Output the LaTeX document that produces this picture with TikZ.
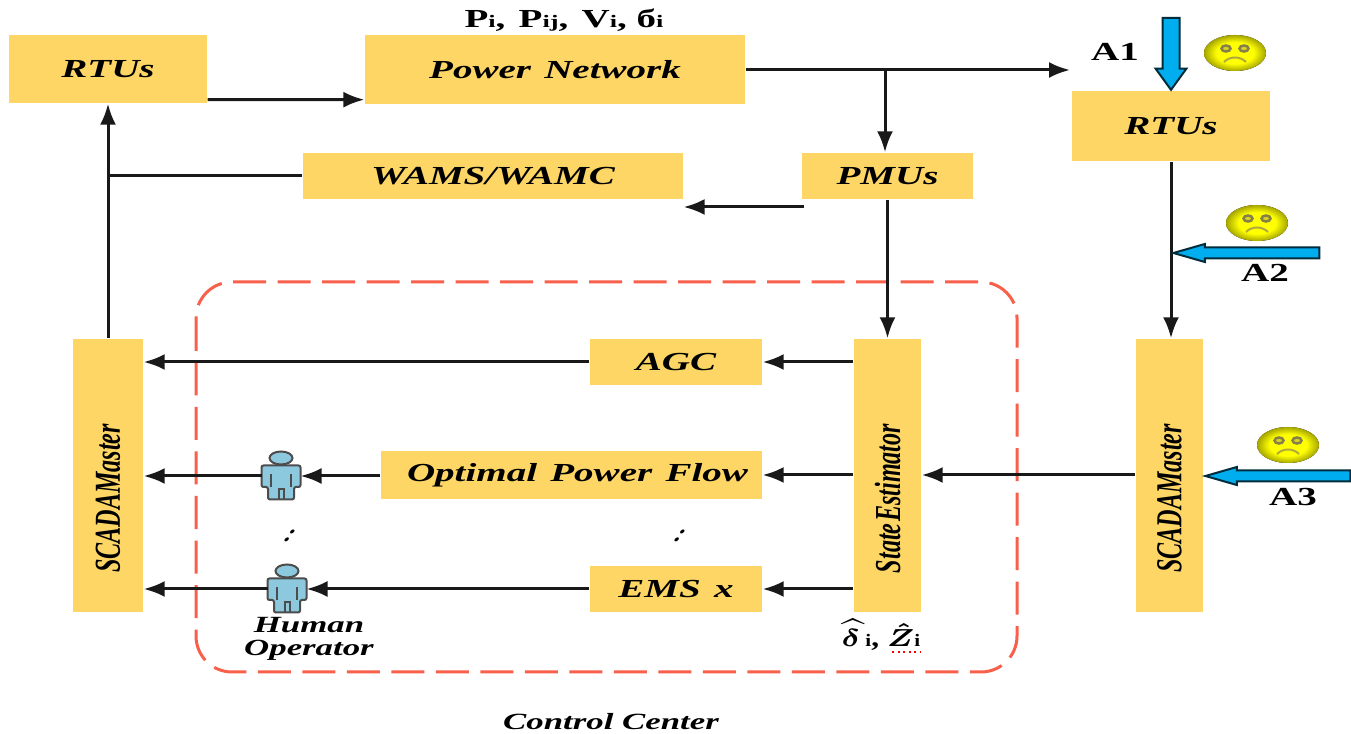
\documentclass[tikz,border=0pt]{standalone}
\usepackage{graphicx}
\usepackage{fontspec}
\setmainfont{Liberation Serif}
\newfontfamily\boxfont[FakeStretch=1.5]{Liberation Serif}
\newfontfamily\tallfont[FakeStretch=0.66]{Liberation Serif}
\usetikzlibrary{arrows.meta,shapes.arrows,shapes.geometric}
\newcommand{\lowtext}[1]{{\fontsize{5}{6}\selectfont #1}}
\newcommand{\gap}{\ \hspace{1pt}}
\definecolor{boxyellow}{HTML}{FDD666}
\definecolor{attackblue}{HTML}{00AEEF}
\definecolor{dashred}{HTML}{F8604C}
\definecolor{userblue}{HTML}{8CC8DE}
\pgfdeclareradialshading{faceball}{\pgfpoint{0bp}{0bp}}{color(0bp)=(yellow); color(15bp)=(yellow); color(25bp)=(yellow!65!black); color(50bp)=(yellow!65!black)}
\tikzset{
    block/.style={fill=boxyellow, inner sep=0pt, font=\boxfont\bfseries\itshape\fontsize{7.4}{9}\selectfont},
    wire/.style={line width=0.03cm, draw=black!90},
    flow/.style={wire, -{Latex[length=0.21cm,width=0.16cm]}},
    attack/.style={single arrow, draw=black!75!attackblue, fill=attackblue, line width=0.02cm, inner xsep=0pt},
    tag/.style={inner sep=0pt, font=\boxfont\bfseries\fontsize{7.4}{9}\selectfont},
    slanted/.style={inner sep=0pt, font=\boxfont\bfseries\itshape\fontsize{6.6}{6.8}\selectfont},
    sadface/.pic={
        \fill[shading=faceball] (0,0) ellipse (0.31 and 0.18);
        \draw[draw=black!55!yellow, fill=yellow!85!black, line width=0.025cm] (-0.09,0.045) ellipse (0.045 and 0.03);
        \draw[draw=black!55!yellow, fill=yellow!85!black, line width=0.025cm] (0.09,0.045) ellipse (0.045 and 0.03);
        \draw[draw=yellow!65!black, line width=0.02cm] (-0.11,-0.09) .. controls (-0.05,-0.03) and (0.05,-0.03) .. (0.11,-0.09);
    },
    operator/.pic={
        \draw[fill=userblue, draw=black!70, line width=0.02cm] (0,0.18) ellipse (0.115 and 0.065);
        \draw[fill=userblue, draw=black!70, line width=0.02cm, rounded corners=0.02cm]
            (-0.13,-0.235) -- (-0.13,-0.11) -- (-0.195,-0.11) -- (-0.195,0.105) -- (0.195,0.105)
            -- (0.195,-0.11) -- (0.13,-0.11) -- (0.13,-0.235) -- cycle;
        \draw[draw=black!70, line width=0.02cm] (-0.1,-0.11) -- (-0.1,0.02) (0.1,-0.11) -- (0.1,0.02)
            (-0.025,-0.235) -- (-0.025,-0.13) -- (0.025,-0.13) -- (0.025,-0.235);
        \coordinate (-w) at (-0.195,0);
        \coordinate (-e) at (0.195,0);
    },
}

\begin{document}
\begin{tikzpicture}

\useasboundingbox (0,0) rectangle (13.51,-7.34);

% Control Center frame
\draw[dashred, line width=0.03cm, dash pattern=on 0.33cm off 0.115cm, rounded corners=0.36cm] (1.96,-2.82) rectangle (10.17,-6.72);
\node[slanted] (control) at (6.11,-7.22) {Control Center};

% Boxes (centre and size in pixels)
\foreach \name/\x/\y/\w/\h/\text in {
    rtuL/108/69/198/68/{RTUs},
    power/555/69.5/380/69/{Power\gap Network},
    rtuR/1171/126/198/70/{RTUs},
    wams/493/176/380/46/{WAMS/WAMC},
    pmu/887.5/176/171/46/{PMUs},
    agc/676/362/172/46/{AGC},
    opf/571.5/475/381/48/{\hspace*{3.4pt}Optimal\gap Power\gap Flow},
    ems/676/589/172/46/{EMS\gap x}} {
    \node[block, minimum width=\w*0.01cm, minimum height=\h*0.01cm] (\name) at (\x/100, -\y/100) {\text};
}

% Tall boxes
\foreach \name/\x/\w/\text in {
    scadaL/108/70/{SCADAMaster},
    state/887.5/67/{State\hspace{0.5pt}Estimator},
    scadaR/1169.5/67/{SCADAMaster}} {
    \node[block, minimum width=\w*0.01cm, minimum height=2.73cm] (\name) at (\x/100, -4.755)
        {\rotatebox{90}{\tallfont\bfseries\itshape\fontsize{10.4}{12}\selectfont\text\hspace*{0.46cm}}};
}

% Operators
\pic (opA) at (2.81,-4.76) {operator};
\pic (opB) at (2.87,-5.89) {operator};
\node[slanted, align=center] (human) at (3.09,-6.39) {Human\\[-0.3pt]Operator};
\node[slanted, xslant=0.5, font=\bfseries\itshape\fontsize{7}{8}\selectfont] (dotsA) at (2.90,-5.36) {:};
\node[slanted, xslant=0.5, font=\bfseries\itshape\fontsize{7}{8}\selectfont] (dotsB) at (6.80,-5.36) {:};

% Measurements
\node[tag] (values) at (5.64,-0.20) {P\lowtext{i},\gap P\lowtext{ij},\gap V\lowtext{i},\ б\lowtext{i}};
\node[tag, font=\bfseries\fontsize{7.4}{9}\selectfont] (estimate) at (8.81,-6.35)
    {{\boldmath\scalebox{1.2}[1]{$\widehat{\delta}$\,\lowtext{i}, $\hat{Z}$\lowtext{i}}}};
\draw[red, densely dotted, line width=0.02cm] ([xshift=-0.29cm,yshift=-0.01cm]estimate.south east) -- ([yshift=-0.01cm]estimate.south east);

% Connectors
\coordinate (jPower) at (8.85,-0.70);
\coordinate (jWams) at (1.08,-1.76);
\coordinate (powerEnd) at (10.70,-0.70);
\draw[flow] ([yshift=0.04cm]rtuL.south east) -- ([yshift=0.05cm]power.south west);
\draw[flow] (power.east |- jPower) -- (powerEnd);
\draw[flow] (jPower) -- (jPower |- pmu.north);
\draw[flow] (scadaL.north) -- (rtuL.south);
\draw[wire] (wams.west) -- (jWams);
\draw[flow] ([xshift=0.03cm,yshift=-0.31cm]pmu.west) -- ([yshift=-0.31cm]wams.east);
\draw[flow] (pmu.south) -- (state.north);
\draw[flow] (rtuR.south) -- (rtuR.south |- scadaR.north);
\draw[flow] (scadaR.west |- opf) -- (state.east |- opf);
\draw[flow] (state.west |- agc) -- (agc.east);
\draw[flow] (agc.west) -- (scadaL.east |- agc);
\draw[flow] (state.west |- opf) -- (opf.east);
\draw[flow] (opf.west |- opA-e) -- (opA-e);
\draw[flow] (opA-w) -- (scadaL.east |- opA-w);
\draw[flow] (state.west |- ems) -- (ems.east);
\draw[flow] (ems.west) -- (opB-e);
\draw[flow] (opB-w) -- (scadaL.east |- opB-w);

% Attacks
\node[attack, inner ysep=0.075cm, minimum height=0.72cm, minimum width=0.29cm, single arrow head extend=0.07cm, single arrow tip angle=72, rotate=-90] (atkA) at (11.71,-0.48) {};
\node[attack, inner ysep=0.045cm, minimum height=1.46cm, minimum width=0.18cm, single arrow head extend=0.035cm, single arrow tip angle=32, rotate=180] (atkB) at (12.56,-2.53) {};
\node[attack, inner ysep=0.045cm, minimum height=1.45cm, minimum width=0.18cm, single arrow head extend=0.035cm, single arrow tip angle=32, rotate=180] (atkC) at (12.875,-4.76) {};
\node[tag] (labelA) at (11.15,-0.52) {A1};
\node[tag] (labelB) at (12.65,-2.73) {A2};
\node[tag] (labelC) at (12.93,-4.97) {A3};
\pic (faceA) at (12.35,-0.53) {sadface};
\pic (faceB) at (12.57,-2.23) {sadface};
\pic (faceC) at (12.88,-4.45) {sadface};

\end{tikzpicture}
\end{document}
